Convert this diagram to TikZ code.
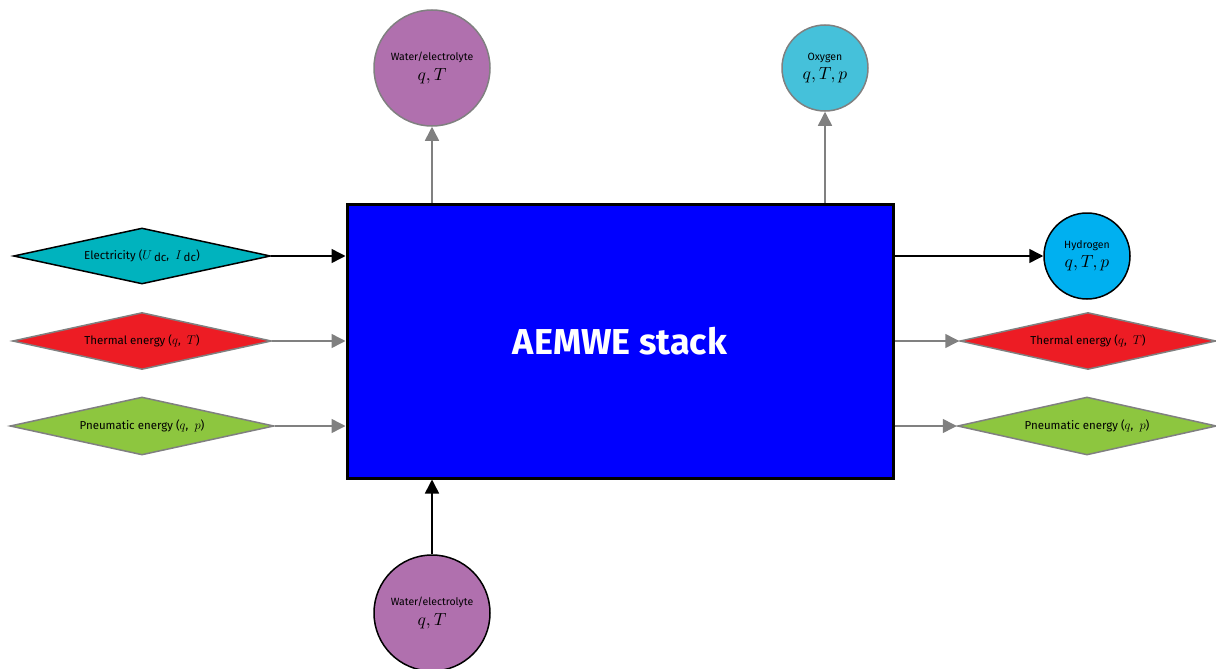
\documentclass[tikz,border=0pt]{standalone}
\usepackage{graphicx}
\usepackage{fontspec}
\setmainfont{Fira Sans}
\usetikzlibrary{arrows.meta,shapes.geometric}
\definecolor{stackblue}{HTML}{0000FF}
\definecolor{waterc}{HTML}{B070AE}
\definecolor{oxyc}{HTML}{45C1DA}
\definecolor{hydc}{HTML}{00B0F0}
\definecolor{elecc}{HTML}{00B3BE}
\definecolor{thermc}{HTML}{ED1C24}
\definecolor{pneuc}{HTML}{8DC63F}
\definecolor{edgegray}{HTML}{808080}
\tikzset{
  flowcirc/.style={circle, inner sep=0pt, line width=1.5pt, font=\fontsize{10.5}{12}\selectfont, align=center},
  flowdiam/.style={diamond, inner sep=0pt, shape aspect=5, line width=1.5pt, font=\fontsize{11.5}{12}\selectfont},
  arrblack/.style={line width=1.5pt, draw=black, -{Triangle[length=14pt,width=14pt]}},
  arrgray/.style={line width=1.5pt, draw=edgegray, -{Triangle[length=14pt,width=14pt]}},
}
\newcommand{\mq}[1]{\scalebox{1.6}{$#1$}}
\newcommand{\dm}[1]{\scalebox{1.05}{$#1$}}
\newcommand{\sub}[1]{\raisebox{-1.8pt}{#1}}
\begin{document}
\begin{tikzpicture}[x=1pt,y=-1pt]
\useasboundingbox (0,0) rectangle (1216,669);
\node[draw=black, line width=3pt, fill=stackblue, minimum width=546pt, minimum height=274pt, inner sep=0pt,
      text=white, font=\fontsize{36}{38}\selectfont\bfseries] (stack) at (620,341) {AEMWE stack};
\node[flowcirc, draw=edgegray, fill=waterc, minimum size=116pt] (wtop) at (432,68) {Water/electrolyte\\[4pt]\mq{q,T}};
\node[flowcirc, draw=edgegray, fill=oxyc, minimum size=86pt] (oxy) at (825,68) {Oxygen\\[4pt]\mq{q,T,p}};
\node[flowcirc, draw=black, fill=hydc, minimum size=86pt] (hyd) at (1087,256) {Hydrogen\\[4pt]\mq{q,T,p}};
\node[flowcirc, draw=black, fill=waterc, minimum size=116pt] (wbot) at (432,613) {Water/electrolyte\\[4pt]\mq{q,T}};
\node[flowdiam, draw=black, fill=elecc, minimum width=257pt, minimum height=56pt] (elec) at (142,256) {Electricity (\dm{U}\,\sub{dc},~ \dm{I}\,\sub{dc})};
\node[flowdiam, draw=edgegray, fill=thermc, minimum width=259pt, minimum height=57pt] (thl) at (142,341) {Thermal energy (\dm{q},~ \dm{T})};
\node[flowdiam, draw=edgegray, fill=pneuc, minimum width=264pt, minimum height=58pt] (pnl) at (142,426) {Pneumatic energy (\dm{q},~ \dm{p})};
\node[flowdiam, draw=edgegray, fill=thermc, minimum width=256pt, minimum height=57pt] (thr) at (1088,341) {Thermal energy (\dm{q},~ \dm{T})};
\node[flowdiam, draw=edgegray, fill=pneuc, minimum width=259pt, minimum height=58pt] (pnr) at (1087,426) {Pneumatic energy (\dm{q},~ \dm{p})};
\draw[arrblack] (elec.east) -- (elec.east -| stack.west);
\draw[arrgray] (thl.east) -- (thl.east -| stack.west);
\draw[arrgray] (pnl.east) -- (pnl.east -| stack.west);
\draw[arrblack] (hyd.west -| stack.east) -- (hyd.west);
\draw[arrgray] (thr.west -| stack.east) -- (thr.west);
\draw[arrgray] (pnr.west -| stack.east) -- (pnr.west);
\draw[arrgray] (wtop.south |- stack.north) -- (wtop.south);
\draw[arrgray] (oxy.south |- stack.north) -- (oxy.south);
\draw[arrblack] (wbot.north) -- (wbot.north |- stack.south);
\end{tikzpicture}
\end{document}
